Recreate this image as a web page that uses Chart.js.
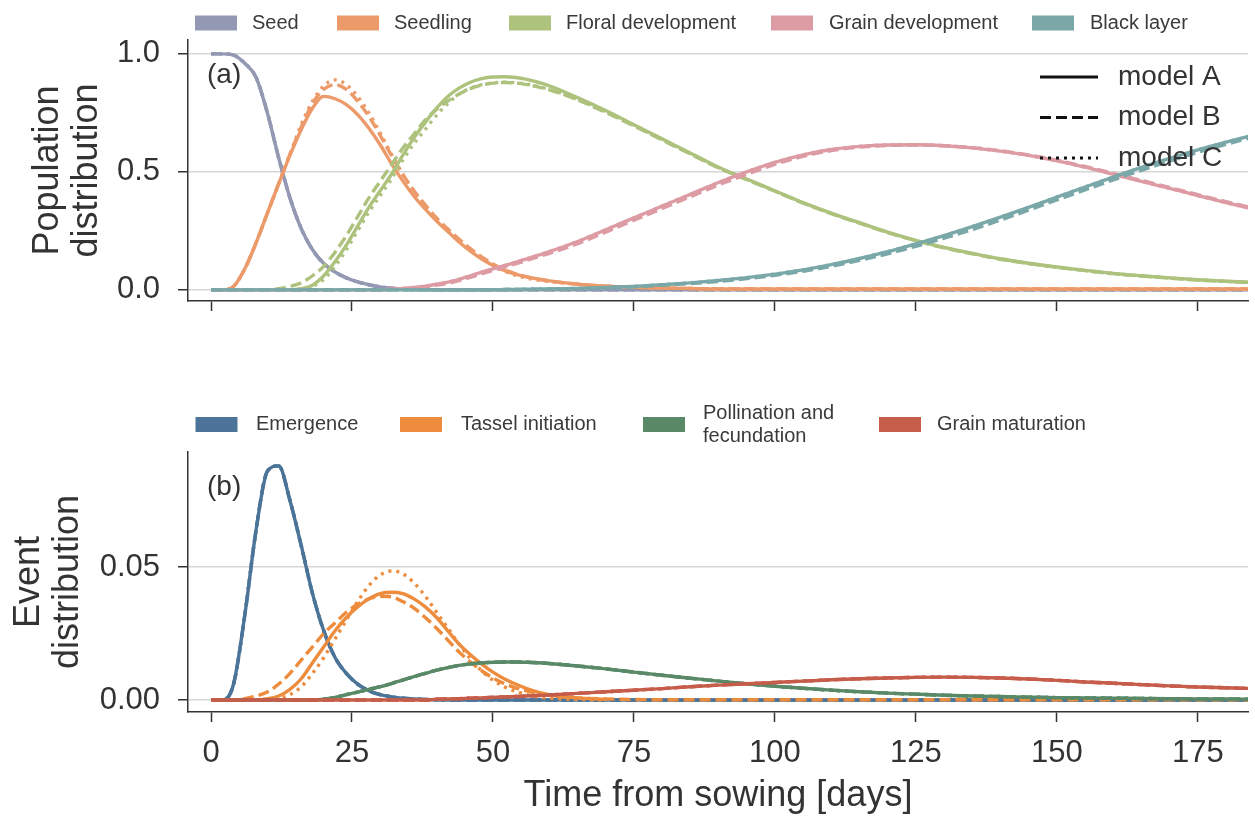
<!DOCTYPE html>
<html><head><meta charset="utf-8">
<script src="https://cdn.jsdelivr.net/npm/chart.js@4.4.0/dist/chart.umd.min.js"></script>
<style>
html,body{margin:0;padding:0;background:#fff;}
#wrap{position:relative;width:1255px;height:821px;overflow:hidden;}
#c1{position:absolute;left:0;top:0;}
#c2{position:absolute;left:0;top:380px;}
</style></head><body>
<div id="wrap">
<canvas id="c1" width="1255" height="340"></canvas>
<canvas id="c2" width="1255" height="441"></canvas>
</div>
<script>
// ---------------- data ----------------
const days = [0,2,4,6,8,10,12,14,16,18,20,22,24,26,28,30,32,34,36,38,40,42,44,46,48,50,52,54,56,58,60,
  65,70,75,80,85,90,95,100,105,110,115,120,125,130,135,140,145,150,155,160,165,170,175,180,185];
const xTicks = [0,25,50,75,100,125,150,175];
const yTicksTop = [0,0.5,1.0];
const yTicksBottom = [0,0.05];

const topLabels = ['Seed','Seedling','Floral development','Grain development','Black layer'];
const bottomLabels = ['Emergence','Tassel initiation',['Pollination and','fecundation'],'Grain maturation'];
const modelLabels = ['model A','model B','model C'];

// population distribution (panel a)
const seed = [1,1,0.995,0.96,0.9,0.75,0.56,0.39,0.26,0.17,0.112,0.076,0.051,0.034,0.022,0.013,0.007,0.004,0.002,0.001,0.0005,0,0,0,0,0,0,0,0,0,0,
  0,0,0,0,0,0,0,0,0,0,0,0,0,0,0,0,0,0,0,0,0,0,0,0,0];
const seedlingA = [0,0,0.015,0.09,0.2,0.325,0.45,0.57,0.68,0.77,0.82,0.81,0.785,0.743,0.685,0.615,0.535,0.462,0.397,0.342,0.292,0.247,0.203,0.164,0.131,0.104,0.083,0.067,0.055,0.046,0.038,
  0.024,0.016,0.011,0.008,0.006,0.004,0.004,0.004,0.004,0.004,0.004,0.004,0.004,0.004,0.004,0.004,0.004,0.004,0.004,0.004,0.004,0.004,0.004,0.004,0.004];
const seedlingB = [0,0,0.015,0.09,0.2,0.325,0.45,0.575,0.69,0.79,0.85,0.87,0.85,0.8,0.735,0.655,0.57,0.49,0.42,0.36,0.305,0.258,0.215,0.175,0.14,0.11,0.086,0.068,0.055,0.046,0.038,
  0.024,0.016,0.011,0.008,0.006,0.004,0.004,0.004,0.004,0.004,0.004,0.004,0.004,0.004,0.004,0.004,0.004,0.004,0.004,0.004,0.004,0.004,0.004,0.004,0.004];
const seedlingC = [0,0,0.015,0.09,0.2,0.325,0.45,0.575,0.7,0.8,0.865,0.89,0.87,0.82,0.75,0.665,0.575,0.49,0.415,0.35,0.295,0.25,0.21,0.17,0.135,0.105,0.08,0.062,0.05,0.042,0.036,
  0.024,0.016,0.011,0.008,0.006,0.004,0.004,0.004,0.004,0.004,0.004,0.004,0.004,0.004,0.004,0.004,0.004,0.004,0.004,0.004,0.004,0.004,0.004,0.004,0.004];
const floralA = [0,0,0,0,0,0,0,0,0.005,0.02,0.06,0.12,0.19,0.27,0.35,0.42,0.49,0.57,0.645,0.71,0.77,0.82,0.855,0.88,0.895,0.902,0.903,0.9,0.892,0.88,0.865,
  0.815,0.76,0.7,0.64,0.58,0.52,0.47,0.42,0.37,0.325,0.285,0.245,0.21,0.18,0.155,0.132,0.113,0.097,0.083,0.07,0.06,0.051,0.043,0.037,0.032];
const floralB = [0,0,0,0,0,0,0.005,0.015,0.03,0.06,0.1,0.16,0.23,0.31,0.39,0.46,0.53,0.6,0.66,0.72,0.765,0.8,0.83,0.853,0.868,0.876,0.879,0.877,0.87,0.86,0.848,
  0.805,0.752,0.695,0.635,0.576,0.517,0.467,0.418,0.368,0.323,0.283,0.243,0.208,0.178,0.153,0.13,0.112,0.096,0.082,0.069,0.059,0.05,0.042,0.036,0.031];
const floralC = [0,0,0,0,0,0,0,0,0.004,0.015,0.045,0.1,0.17,0.25,0.33,0.4,0.47,0.55,0.62,0.68,0.74,0.79,0.83,0.855,0.87,0.877,0.88,0.878,0.872,0.862,0.85,
  0.807,0.755,0.698,0.638,0.578,0.519,0.469,0.419,0.369,0.324,0.284,0.244,0.209,0.179,0.154,0.131,0.112,0.096,0.082,0.069,0.059,0.05,0.042,0.036,0.031];
const grainDevA = [0,0,0,0,0,0,0,0,0,0,0,0,0,0,0,0,0.003,0.006,0.01,0.016,0.024,0.033,0.045,0.06,0.075,0.089,0.103,0.117,0.132,0.147,0.162,
  0.205,0.255,0.305,0.355,0.405,0.455,0.5,0.54,0.572,0.595,0.608,0.614,0.615,0.611,0.602,0.588,0.57,0.547,0.52,0.49,0.46,0.43,0.4,0.37,0.342];
const grainDevB = [0,0,0,0,0,0,0,0,0,0,0,0,0,0,0,0,0.002,0.005,0.008,0.013,0.02,0.028,0.039,0.053,0.068,0.082,0.096,0.11,0.125,0.14,0.155,
  0.196,0.245,0.295,0.345,0.395,0.445,0.49,0.532,0.566,0.59,0.605,0.612,0.614,0.611,0.603,0.59,0.572,0.55,0.523,0.494,0.464,0.434,0.404,0.374,0.346];
const blackA = [0,0,0,0,0,0,0,0,0,0,0,0,0,0,0,0,0,0,0,0,0,0,0,0,0,0.001,0.0015,0.002,0.0025,0.003,0.004,
  0.006,0.01,0.015,0.022,0.03,0.04,0.052,0.067,0.085,0.107,0.133,0.162,0.195,0.23,0.268,0.308,0.35,0.393,0.436,0.478,0.519,0.557,0.593,0.626,0.657];
const blackB = [0,0,0,0,0,0,0,0,0,0,0,0,0,0,0,0,0,0,0,0,0,0,0,0,0,0.001,0.0015,0.002,0.0025,0.003,0.004,
  0.005,0.009,0.013,0.02,0.027,0.036,0.048,0.062,0.079,0.1,0.125,0.153,0.185,0.219,0.256,0.296,0.338,0.381,0.424,0.466,0.507,0.546,0.583,0.617,0.649];

// event distribution (panel b)
const emergence = [0,0,0.006,0.032,0.064,0.086,0.088,0.075,0.058,0.04,0.026,0.016,0.01,0.006,0.0035,0.002,0.0012,0.0007,0.0004,0.0002,0.0001,0,0,0,0,0,0,0,0,0,0,
  0,0,0,0,0,0,0,0,0,0,0,0,0,0,0,0,0,0,0,0,0,0,0,0,0];
const tasselA = [0,0,0,0,0,0.0005,0.0015,0.004,0.008,0.014,0.02,0.026,0.031,0.035,0.038,0.04,0.0405,0.04,0.038,0.035,0.031,0.026,0.021,0.017,0.0135,0.0105,0.008,0.006,0.0043,0.003,0.002,
  0.0008,0.0003,null,null,null,null,null,null,null,null,null,null,null,null,null,null,null,null,null,null,null,null,null,null,null];
const tasselB = [0,0,0,0.0005,0.0015,0.003,0.006,0.01,0.015,0.02,0.025,0.029,0.033,0.036,0.038,0.039,0.0388,0.037,0.0345,0.031,0.027,0.0225,0.018,0.0143,0.011,0.0083,0.0062,0.0046,0.0034,0.0025,0.0018,
  0.0008,0.0004,0.0002,0.0001,0.0001,0.0001,0.0001,0.0001,0.0001,0.0001,0.0001,0.0001,0.0001,0.0001,0.0001,0.0001,0.0001,0.0001,0.0001,0.0001,0.0001,0.0001,0.0001,0.0001,0.0001];
const tasselC = [0,0,0,0,0,0,0.0005,0.002,0.005,0.01,0.016,0.023,0.03,0.037,0.043,0.047,0.0485,0.0475,0.044,0.039,0.033,0.027,0.021,0.0155,0.011,0.0075,0.005,0.0033,0.002,0.0012,0.0007,
  0.0002,0,null,null,null,null,null,null,null,null,null,null,null,null,null,null,null,null,null,null,null,null,null,null,null];
const pollination = [0,0,0,0,0,0,0,0,0,0,0.0003,0.001,0.002,0.003,0.004,0.005,0.0062,0.0075,0.0088,0.01,0.0112,0.0122,0.013,0.0136,0.014,0.0142,0.0143,0.0143,0.0142,0.014,0.0137,
  0.0128,0.0117,0.0105,0.0093,0.0082,0.0071,0.0061,0.0052,0.0044,0.0037,0.0031,0.0026,0.0022,0.0018,0.0015,0.0013,0.0011,0.0009,0.0008,0.0007,0.0006,0.0005,0.0004,0.0004,0.0003];
const grainMat = [0,0,0,0,0,0,0,0,0,0,0,0,0,0,0,0,0,0,0,0,0.0003,0.0004,0.0005,0.0007,0.0008,0.001,0.0012,0.0013,0.0015,0.0017,0.0019,
  0.0025,0.0031,0.0037,0.0043,0.005,0.0056,0.0061,0.0066,0.0071,0.0076,0.008,0.0083,0.0085,0.0086,0.0085,0.0083,0.0079,0.0074,0.0068,0.0063,0.0058,0.0053,0.0049,0.0046,0.0043];

// ---------------- styling ----------------
const FONT = '"Liberation Sans", Arial, Helvetica, sans-serif';
Chart.defaults.font.family = FONT;
Chart.defaults.color = '#333';
const DASH = {A: [], B: [11, 5], C: [3, 5]};
const MODELS = ['A','B','C'];

const topStages = [
  {name: topLabels[0], color: '#9399b3', A: seed, B: seed, C: seed},
  {name: topLabels[1], color: '#ec9a6a', A: seedlingA, B: seedlingB, C: seedlingC},
  {name: topLabels[2], color: '#adc27d', A: floralA, B: floralB, C: floralC},
  {name: topLabels[3], color: '#dd9ba4', A: grainDevA, B: grainDevB, C: grainDevA},
  {name: topLabels[4], color: '#7aa8a9', A: blackA, B: blackB, C: blackA}
];
const bottomStages = [
  {name: bottomLabels[0], color: '#4b7498', A: emergence, B: emergence, C: emergence},
  {name: bottomLabels[1], color: '#ee8c3e', A: tasselA, B: tasselB, C: tasselC},
  {name: bottomLabels[2], color: '#5a8968', A: pollination, B: pollination, C: pollination},
  {name: bottomLabels[3], color: '#c65d4b', A: grainMat, B: grainMat, C: grainMat}
];

function buildDatasets(stages) {
  const ds = [];
  stages.forEach(st => {
    MODELS.forEach(m => {
      ds.push({
        label: (Array.isArray(st.name) ? st.name.join(' ') : st.name) + ' ' + m,
        data: days.map((d, i) => ({x: d, y: st[m][i]})),
        borderColor: st.color,
        borderWidth: 3.4,
        borderDash: DASH[m],
        borderCapStyle: 'butt',
        pointRadius: 0,
        fill: false,
        cubicInterpolationMode: 'monotone'
      });
    });
  });
  ds.forEach((d, i) => { d.order = -i; });
  return ds;
}

function xScale(showLabels, height) {
  return {
    type: 'linear', min: -4.08, max: 183.9,
    afterBuildTicks: s => { s.ticks = xTicks.map(v => ({value: v})); },
    afterFit: s => { s.height = height; },
    grid: {drawOnChartArea: false, drawTicks: true, tickLength: 10, tickColor: '#333', tickWidth: 1.5},
    border: {display: true, color: '#333', width: 1.5},
    ticks: {display: showLabels, color: '#333', font: {size: 31}, padding: 13, maxRotation: 0,
            callback: v => String(v)},
    title: {display: showLabels, text: 'Time from sowing [days]', color: '#333',
            font: {size: 36, lineHeight: 1.2}, padding: {top: 0, bottom: 3}}
  };
}
function yScale(min, max, ticks, digits, titleText, titlePad) {
  return {
    type: 'linear', min: min, max: max,
    afterBuildTicks: s => { s.ticks = ticks.map(v => ({value: v})); },
    afterFit: s => { s.width = 188; },
    grid: {color: '#d6d6d6', lineWidth: 1.5, drawTicks: true, tickLength: 10, tickColor: '#333', tickWidth: 1.5},
    border: {display: true, color: '#333', width: 1.5},
    ticks: {color: '#333', font: {size: 31}, padding: 18, callback: v => Number(v).toFixed(digits)},
    title: {display: true, text: titleText, color: '#333', font: {size: 36, lineHeight: 1.083},
            padding: {top: titlePad, bottom: 0}}
  };
}

function drawLegend(c, stages, boxX, textX, yc) {
  c.font = '20px ' + FONT;
  c.textBaseline = 'middle';
  c.textAlign = 'left';
  stages.forEach((st, i) => {
    c.fillStyle = st.color;
    c.fillRect(boxX[i], yc - 7.5, 42, 15);
    c.fillStyle = '#3a3a3a';
    if (Array.isArray(st.name)) {
      c.fillText(st.name[0], textX[i], yc - 11.5);
      c.fillText(st.name[1], textX[i], yc + 11.5);
    } else {
      c.fillText(st.name, textX[i], yc);
    }
  });
}

const topDecor = {
  id: 'topDecor',
  afterDraw(chart) {
    const c = chart.ctx;
    c.save();
    drawLegend(c, topStages, [195, 337, 509, 771, 1032], [252, 394, 566, 829, 1090], 23);
    c.font = '28px ' + FONT;
    c.fillStyle = '#333';
    c.textBaseline = 'middle';
    c.fillText('(a)', 207, 75);
    c.strokeStyle = '#111';
    c.lineWidth = 3;
    modelLabels.forEach((m, i) => {
      const y = 77 + i * 40.5;
      c.setLineDash(DASH[MODELS[i]]);
      c.beginPath(); c.moveTo(1040, y); c.lineTo(1098, y); c.stroke();
      c.setLineDash([]);
      c.fillStyle = '#333';
      c.fillText(m, 1118, y);
    });
    c.restore();
  }
};
const bottomDecor = {
  id: 'bottomDecor',
  afterDraw(chart) {
    const c = chart.ctx;
    c.save();
    drawLegend(c, bottomStages, [195.5, 400, 643, 879], [256, 461, 703, 937], 44.5);
    c.font = '28px ' + FONT;
    c.fillStyle = '#333';
    c.textBaseline = 'middle';
    c.fillText('(b)', 207, 107);
    c.restore();
  }
};

function commonOptions() {
  return {
    responsive: false, animation: false, events: [],
    plugins: {legend: {display: false}, tooltip: {enabled: false}},
    elements: {line: {tension: 0.4}}
  };
}

new Chart(document.getElementById('c1'), {
  type: 'line',
  data: {datasets: buildDatasets(topStages)},
  options: Object.assign(commonOptions(), {
    layout: {padding: {left: 0, right: 7, top: 40, bottom: 0}},
    scales: {
      x: xScale(false, 39),
      y: yScale(-0.047, 1.059, yTicksTop, 1, ['Population', 'distribution'], 28.5)
    }
  }),
  plugins: [topDecor]
});

new Chart(document.getElementById('c2'), {
  type: 'line',
  data: {datasets: buildDatasets(bottomStages)},
  options: Object.assign(commonOptions(), {
    layout: {padding: {left: 0, right: 7, top: 72, bottom: 0}},
    scales: {
      x: xScale(true, 109),
      y: yScale(-0.0045, 0.0932, yTicksBottom, 2, ['Event', 'distribution'], 9.5)
    }
  }),
  plugins: [bottomDecor]
});
</script>
</body></html>
